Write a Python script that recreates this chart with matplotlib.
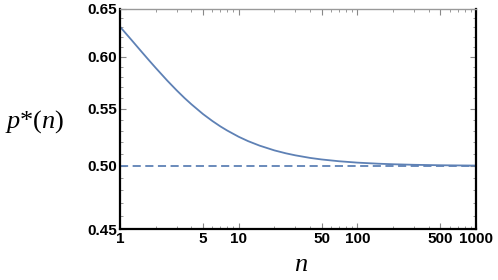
import matplotlib.pyplot as plt
from matplotlib.ticker import FixedLocator, NullFormatter, FixedFormatter

plt.rcParams['mathtext.fontset'] = 'custom'
plt.rcParams['mathtext.it'] = 'Liberation Serif:italic'
plt.rcParams['mathtext.rm'] = 'Liberation Serif'

# values
n_vals = [1, 1.25, 1.5, 1.75, 2, 2.5, 3, 3.5, 4, 5, 6, 7, 8, 10, 12, 15, 20, 25,
          30, 40, 50, 70, 100, 150, 200, 300, 500, 700, 1000]
p_vals = [0.6307, 0.6169, 0.6057, 0.5965, 0.5888, 0.5765, 0.5672, 0.5599, 0.5541,
          0.5452, 0.5389, 0.5341, 0.5304, 0.5249, 0.5211, 0.5172, 0.5131, 0.5106,
          0.5089, 0.5067, 0.5054, 0.5039, 0.50274, 0.50184, 0.50138, 0.50092,
          0.50055, 0.50040, 0.50028]
p_limit = 0.5

x_major = [1, 5, 10, 50, 100, 500, 1000]
x_minor = [2, 3, 4, 6, 7, 8, 9, 20, 30, 40, 60, 70, 80, 90, 200, 300, 400, 600, 700, 800, 900]
y_major = [0.45, 0.50, 0.55, 0.60, 0.65]
y_minor = [0.46, 0.47, 0.48, 0.49, 0.51, 0.52, 0.53, 0.54, 0.56, 0.57, 0.58, 0.59,
           0.61, 0.62, 0.63, 0.64]

col = '#5E81B5'

fig = plt.figure(figsize=(4.98, 2.80), dpi=100)
ax = fig.add_axes([0.241, 0.182, 0.715, 0.787])

ax.plot(n_vals, p_vals, color=col, lw=1.3)
ax.axhline(p_limit, color=col, lw=1.3, ls=(0, (4.5, 2.5)))

ax.set_xscale('log')
ax.set_yscale('log')
ax.set_xlim(1, 1000)
ax.set_ylim(0.45, 0.65)

ax.xaxis.set_major_locator(FixedLocator(x_major))
ax.xaxis.set_major_formatter(FixedFormatter([str(v) for v in x_major]))
ax.xaxis.set_minor_locator(FixedLocator(x_minor))
ax.xaxis.set_minor_formatter(NullFormatter())
ax.yaxis.set_major_locator(FixedLocator(y_major))
ax.yaxis.set_major_formatter(FixedFormatter([f"{v:.2f}" for v in y_major]))
ax.yaxis.set_minor_locator(FixedLocator(y_minor))
ax.yaxis.set_minor_formatter(NullFormatter())

ax.tick_params(which='both', direction='in', top=True, right=True, color='#888888')
ax.tick_params(which='major', length=4, width=0.8, pad=2)
ax.tick_params(which='minor', length=2.5, width=0.6)
for lab in ax.get_xticklabels() + ax.get_yticklabels():
    lab.set_fontfamily('Liberation Sans')
    lab.set_fontweight('bold')
    lab.set_fontsize(11)

for side in ['left', 'bottom', 'right']:
    ax.spines[side].set_linewidth(1.6)
    ax.spines[side].set_color('black')
ax.spines['top'].set_linewidth(1.0)
ax.spines['top'].set_color('#999999')

fig.text(0.07, 0.565, r'$p$*($n$)', family='Liberation Serif', fontsize=19,
         ha='center', va='center')
fig.text(0.605, 0.058, r'$n$', fontsize=19, ha='center', va='center')

fig.savefig('out.png', dpi=100)
